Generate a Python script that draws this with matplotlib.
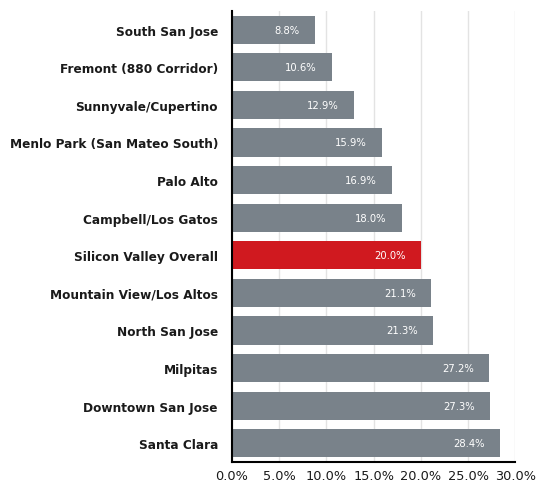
import matplotlib
matplotlib.use("Agg")
import matplotlib.pyplot as plt
from matplotlib.ticker import FuncFormatter

categories = ["South San Jose", "Fremont (880 Corridor)", "Sunnyvale/Cupertino",
              "Menlo Park (San Mateo South)", "Palo Alto", "Campbell/Los Gatos",
              "Silicon Valley Overall", "Mountain View/Los Altos", "North San Jose",
              "Milpitas", "Downtown San Jose", "Santa Clara"]
values = [8.8, 10.6, 12.9, 15.9, 16.9, 18.0, 20.0, 21.1, 21.3, 27.2, 27.3, 28.4]
highlight = "Silicon Valley Overall"
xticks = [0, 5, 10, 15, 20, 25, 30]

gray = "#79828a"
red = "#d0191f"

fig = plt.figure(figsize=(5.38, 4.85), dpi=100)
ax = fig.add_axes([0.431, 0.0454, 0.527, 0.930])

colors = [red if c == highlight else gray for c in categories]
ypos = list(range(len(categories)))
ax.barh(ypos, values, height=0.75, color=colors, zorder=3)
ax.set_ylim(len(categories) - 0.5, -0.5)
ax.set_xlim(0, 30)
ax.set_yticks(ypos)
ax.set_yticklabels(categories, fontsize=8.7, fontweight="bold", color="#1a1a1a")
ax.set_xticks(xticks)
ax.xaxis.set_major_formatter(FuncFormatter(lambda v, p: f"{v:.1f}%"))
ax.tick_params(axis="x", labelsize=9.3, length=0, pad=5, colors="#1a1a1a")
ax.tick_params(axis="y", length=0, pad=10)
ax.grid(axis="x", color="#e3e3e3", linewidth=1, zorder=0)
for s in ["top", "right"]:
    ax.spines[s].set_visible(False)
ax.spines["left"].set_linewidth(1.5)
ax.spines["bottom"].set_linewidth(1.5)
ax.spines["left"].set_zorder(4)

for y, v in zip(ypos, values):
    ax.annotate(f"{v:.1f}%", xy=(v, y), xytext=(-11, 0), textcoords="offset points",
                ha="right", va="center", color="white", fontsize=7.2, zorder=5)

fig.savefig("out.png", dpi=100)
